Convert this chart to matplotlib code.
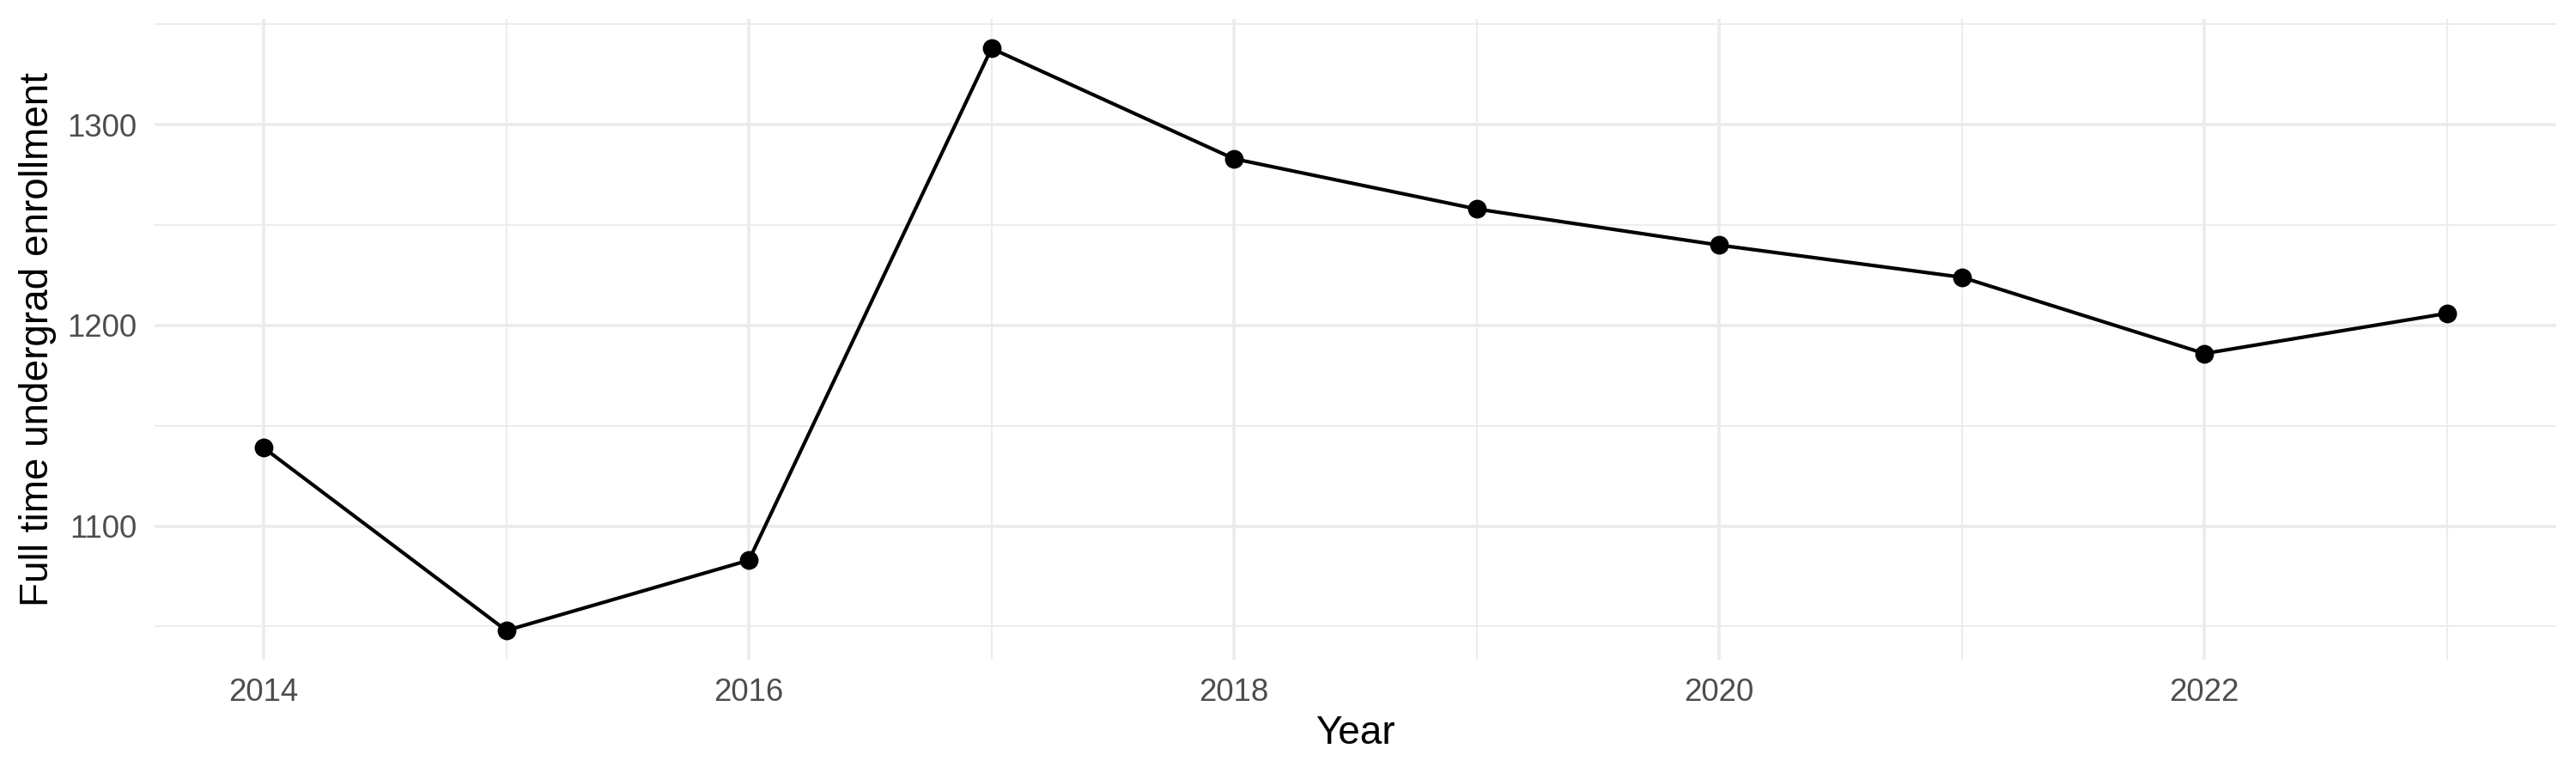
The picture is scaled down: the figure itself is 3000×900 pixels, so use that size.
import matplotlib
matplotlib.use("Agg")
import matplotlib.pyplot as plt
from matplotlib.ticker import MultipleLocator

plt.rcParams['font.family'] = ['Liberation Sans', 'DejaVu Sans']

# ------------------------
# Data
# ------------------------
years = [2014, 2015, 2016, 2017, 2018, 2019, 2020, 2021, 2022, 2023]
enrollment = [1139, 1048, 1083, 1338, 1283, 1258, 1240, 1224, 1186, 1206]

x_ticks = [2014, 2016, 2018, 2020, 2022]
y_ticks = [1100, 1200, 1300]

fig = plt.figure(figsize=(10, 3), dpi=300)
ax = fig.add_axes([0.06, 0.1467, 0.9323, 0.8283])

ax.plot(years, enrollment, color="black", linewidth=1.0, zorder=3)
ax.scatter(years, enrollment, color="black", s=18, zorder=4)

# ggplot-like 5% expansion
xr = max(years) - min(years)
yr = max(enrollment) - min(enrollment)
ax.set_xlim(min(years) - 0.05 * xr, max(years) + 0.05 * xr)
ax.set_ylim(min(enrollment) - 0.05 * yr, max(enrollment) + 0.05 * yr)

ax.set_xticks(x_ticks)
ax.set_yticks(y_ticks)
ax.xaxis.set_minor_locator(MultipleLocator(1))
ax.yaxis.set_minor_locator(MultipleLocator(50))

# theme_minimal style
for s in ax.spines.values():
    s.set_visible(False)
ax.grid(which="major", color="#EBEBEB", linewidth=0.85, zorder=0)
ax.grid(which="minor", color="#EBEBEB", linewidth=0.45, zorder=0)
ax.set_axisbelow(True)
ax.tick_params(which="both", length=0, pad=5)
ax.tick_params(labelsize=8.8, labelcolor="#4D4D4D")

ax.set_xlabel("Year", fontsize=11, labelpad=2)
ax.set_ylabel("Full time undergrad enrollment", fontsize=11, labelpad=3)

fig.savefig("out.png", dpi=300)
